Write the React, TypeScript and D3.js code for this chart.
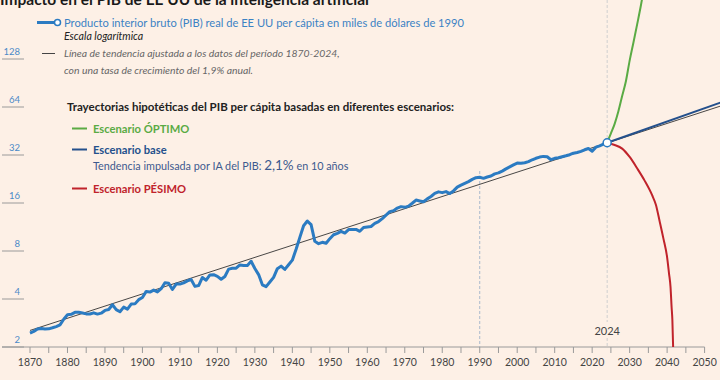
import React from "react";
import * as d3 from "d3";

const W = 720;
const H = 380;

// US real GDP per capita, thousands of 1990 dollars, 1870-2024
const gdpStartYear = 1870;
const gdpValues = [
  2.445, 2.503, 2.594, 2.613, 2.598, 2.599, 2.64, 2.686, 2.754, 2.986,
  3.184, 3.205, 3.299, 3.299, 3.271, 3.226, 3.22, 3.275, 3.217, 3.26,
  3.392, 3.438, 3.681, 3.433, 3.33, 3.558, 3.454, 3.716, 3.728, 3.962,
  4.091, 4.464, 4.42, 4.551, 4.43, 4.642, 5.058, 5.018, 4.59, 4.96,
  4.96, 5.05, 5.2, 5.3, 4.8, 4.86, 5.46, 5.25, 5.66, 5.68,
  5.55, 5.32, 5.54, 6.16, 6.23, 6.24, 6.54, 6.49, 6.49, 6.9,
  6.21, 5.69, 4.91, 4.78, 5.11, 5.47, 6.2, 6.43, 6.13, 6.56,
  7.01, 8.21, 9.74, 11.52, 12.33, 11.71, 9.2, 8.89, 9.07, 8.94,
  9.56, 10.12, 10.32, 10.61, 10.36, 10.9, 10.91, 10.92, 10.63, 11.23,
  11.33, 11.4, 11.91, 12.24, 12.77, 13.42, 14.13, 14.33, 14.86, 15.18,
  15.03, 15.3, 15.94, 16.69, 16.49, 16.28, 16.98, 17.57, 18.37, 18.79,
  18.58, 18.86, 18.33, 19.05, 20.12, 20.72, 21.24, 21.79, 22.5, 23.06,
  23.2, 22.85, 23.3, 23.62, 24.37, 24.71, 25.36, 26.18, 26.94, 27.74,
  28.47, 28.38, 28.59, 29.07, 29.87, 30.52, 31.05, 31.36, 31.18, 29.9,
  30.49, 30.73, 31.19, 31.63, 32.14, 32.84, 33.17, 33.7, 34.51, 35.13,
  33.83, 35.83, 36.51, 37.39, 38.2,
];

// Trend line 1870-2024 extended
const trendYears = [1870, 2054.2];
const trendValues = [2.54, 64.8];

// Scenarios
const baseYears = [2024, 2054.2];
const baseValues = [38.2, 68.2];

const optYears = [2024, 2025, 2026, 2027, 2028, 2029, 2030, 2031, 2032, 2033, 2034, 2035];
const optValues = [38.2, 43.7, 50.2, 60.2, 75, 92.9, 125, 162, 211, 277, 376, 520];

const pesYears = [2024, 2026, 2028, 2030, 2032, 2034, 2036, 2037, 2038, 2039, 2040, 2040.5, 2040.9, 2041.2, 2041.4, 2041.6];
const pesValues = [38.2, 37.0, 35.1, 31.1, 26.4, 22.1, 17.9, 15.6, 12.3, 9.6, 7.3, 5.8, 4.78, 3.54, 2.95, 2.0];

const xTicks = d3.range(1870, 2051, 10);
const xMinorTicks = d3.range(1870, 2051, 5);
const yTicks = [2, 4, 8, 16, 32, 64, 128];

const BG = "#fdf0e6";
const BLUE = "#2b7bc2";
const BASE = "#24508c";
const GREEN = "#5aab44";
const RED = "#c0232b";
const FONT = "Lato, 'Open Sans', sans-serif";

export default function App() {
  const x = d3.scaleLinear().domain([1870, 2050]).range([30, 704.6]);
  const y = d3.scaleLog().base(2).domain([2, 128]).range([347, 59]);

  const gdp = gdpValues.map((v, i) => [gdpStartYear + i, v] as [number, number]);
  const line = d3
    .line<[number, number]>()
    .x((d) => x(d[0]))
    .y((d) => y(d[1]));
  const smooth = d3
    .line<[number, number]>()
    .x((d) => x(d[0]))
    .y((d) => y(d[1]))
    .curve(d3.curveMonotoneX);

  const zip = (a: number[], b: number[]) => a.map((v, i) => [v, b[i]] as [number, number]);
  const last = gdp[gdp.length - 1];

  return (
    <svg
      width={W}
      height={H}
      style={{ position: "absolute", left: 0, top: 0, background: BG, fontFamily: FONT }}
    >
      <rect width={W} height={H} fill={BG} />
      <defs>
        <clipPath id="plot">
          <rect x={0} y={-20} width={W} height={347 + 20 + 1} />
        </clipPath>
      </defs>

      {/* title (cut off at top, as in the original) */}
      <text x={0} y={5} fontSize={15.5} fontWeight={700} fill="#1a1a1a">
        Impacto en el PIB de EE UU de la inteligencia artificial
      </text>

      {/* y ticks */}
      {yTicks.map((t) => (
        <g key={t}>
          <line x1={2} x2={24} y1={y(t)} y2={y(t)} stroke="#9a9a9a" strokeWidth={1} />
          <text x={20} y={y(t) - 4} textAnchor="end" fontSize={9.5} fill="#4a8ac8">
            {t}
          </text>
        </g>
      ))}

      {/* x axis */}
      <line x1={2} x2={704.6} y1={347} y2={347} stroke="#9a9a9a" strokeWidth={1} />
      {xMinorTicks.map((t) => (
        <line key={t} x1={x(t)} x2={x(t)} y1={347} y2={353} stroke="#9a9a9a" strokeWidth={1} />
      ))}
      {xTicks.map((t) => (
        <text key={t} x={x(t)} y={366} textAnchor="middle" fontSize={10.5} fill="#444">
          {t}
        </text>
      ))}

      {/* reference lines */}
      <line x1={x(1990)} x2={x(1990)} y1={171} y2={347} stroke="#a9b9cc" strokeDasharray="3,2" strokeWidth={1} />
      <line x1={x(2024)} x2={x(2024)} y1={0} y2={322} stroke="#cfcfcf" strokeDasharray="3,2" strokeWidth={1} />
      <line x1={x(2024)} x2={x(2024)} y1={338} y2={347} stroke="#cfcfcf" strokeDasharray="3,2" strokeWidth={1} />
      <text x={x(2024)} y={335} textAnchor="middle" fontSize={11} fill="#444">
        2024
      </text>

      <g clipPath="url(#plot)">
        <path d={line(zip(trendYears, trendValues)) || ""} fill="none" stroke="#333" strokeWidth={0.9} />
        <path d={smooth(zip(optYears, optValues)) || ""} fill="none" stroke={GREEN} strokeWidth={2} />
        <path d={smooth(zip(pesYears, pesValues)) || ""} fill="none" stroke={RED} strokeWidth={2} />
        <path d={line(zip(baseYears, baseValues)) || ""} fill="none" stroke={BASE} strokeWidth={2} />
        <path d={line(gdp) || ""} fill="none" stroke={BLUE} strokeWidth={3} strokeLinejoin="round" />
      </g>
      <circle cx={x(last[0])} cy={y(last[1])} r={4} fill="#fff" stroke={BLUE} strokeWidth={1.5} />

      {/* legend */}
      <line x1={37} x2={54} y1={22.5} y2={22.5} stroke={BLUE} strokeWidth={3} />
      <circle cx={57.5} cy={22.5} r={3} fill="#fff" stroke={BLUE} strokeWidth={1.5} />
      <text x={64} y={26.5} fontSize={11.15} fill="#3b82c4">
        Producto interior bruto (PIB) real de EE UU per cápita en miles de dólares de 1990
      </text>
      <text x={64} y={40} fontSize={10.6} fontStyle="italic" fill="#222">
        Escala logarítmica
      </text>

      <line x1={42} x2={55} y1={53.5} y2={53.5} stroke="#444" strokeWidth={1} />
      <text x={64} y={57} fontSize={10.4} fontStyle="italic" fill="#666">
        Línea de tendencia ajustada a los datos del período 1870-2024,
      </text>
      <text x={64} y={73.5} fontSize={10.4} fontStyle="italic" fill="#666">
        con una tasa de crecimiento del 1,9% anual.
      </text>

      <text x={67} y={110.5} fontSize={11.5} fontWeight={700} fill="#222">
        Trayectorias hipotéticas del PIB per cápita basadas en diferentes escenarios:
      </text>

      <line x1={72} x2={87} y1={128.5} y2={128.5} stroke={GREEN} strokeWidth={2} />
      <text x={93} y={133} fontSize={11.2} fontWeight={700} fill={GREEN}>
        Escenario ÓPTIMO
      </text>

      <line x1={72} x2={87} y1={149.5} y2={149.5} stroke={BASE} strokeWidth={2} />
      <text x={93} y={154} fontSize={11.2} fontWeight={700} fill={BASE}>
        Escenario base
      </text>
      <text x={93} y={170} fontSize={10.8} fill="#3d5a8e">
        Tendencia impulsada por IA del PIB:{" "}
        <tspan fontSize={13.5}>2,1%</tspan> en 10 años
      </text>

      <line x1={72} x2={87} y1={188.5} y2={188.5} stroke={RED} strokeWidth={2} />
      <text x={93} y={193} fontSize={11.2} fontWeight={700} fill={RED}>
        Escenario PÉSIMO
      </text>
    </svg>
  );
}
